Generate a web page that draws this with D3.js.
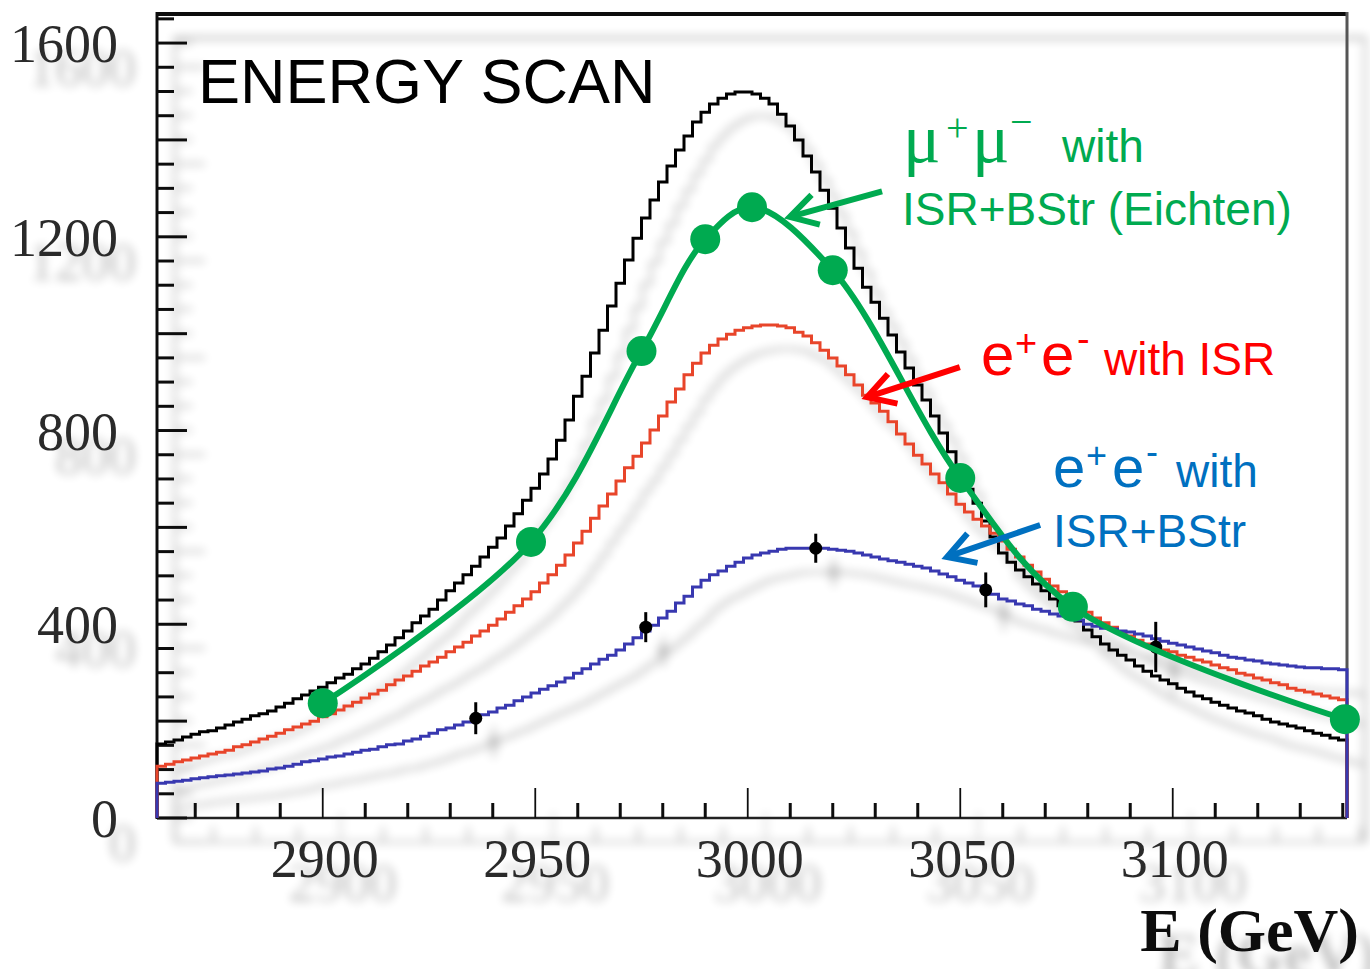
<!DOCTYPE html>
<html><head><meta charset="utf-8">
<script src="https://cdn.jsdelivr.net/npm/d3@7"></script>
<style>html,body{margin:0;padding:0;background:#fff;}svg{display:block;}</style>
</head><body>
<script>
// ---- data ----
const binStart = 2861, binWidth = 2;
const blackHist = [
153,157,161,167,173,178,180,186,192,198,
204,211,215,221,229,237,246,254,262,270,
279,289,297,308,318,330,343,357,372,386,
403,417,431,450,469,485,502,520,539,559,
578,603,628,656,681,710,741,780,822,871,
912,960,1007,1057,1104,1152,1197,1239,1276,1313,
1346,1379,1408,1437,1457,1474,1486,1495,1499,1499,
1495,1486,1474,1453,1429,1400,1367,1334,1296,1259,
1218,1177,1135,1096,1065,1032,997,962,929,894,
863,830,795,756,718,679,650,613,580,547,
528,512,498,483,469,452,438,421,407,388,
374,359,347,336,326,314,303,293,285,277,
268,260,252,246,239,233,227,221,217,211,
204,198,194,190,186,180,175,171,165,161];
const redHist = [
107,111,116,120,124,128,132,136,140,147,
151,157,163,169,175,182,188,194,200,209,
215,223,231,239,248,256,264,275,285,293,
303,314,322,332,343,353,363,376,386,398,
411,425,438,452,467,485,502,522,543,568,
592,619,644,669,696,723,747,774,801,830,
859,886,915,939,960,976,989,999,1007,1012,
1016,1018,1018,1016,1012,1003,995,981,966,950,
933,915,894,873,857,840,818,793,772,749,
731,710,692,669,648,632,617,603,588,572,
555,539,522,508,493,479,467,452,438,425,
413,403,394,384,376,367,359,353,347,343,
336,332,326,322,316,310,306,299,295,289,
285,279,275,268,264,260,256,252,248,244];
const blueHist = [
72,74,76,78,81,83,85,87,89,91,
93,95,97,101,103,107,111,116,118,122,
126,128,132,136,140,142,147,151,153,159,
163,169,175,182,186,192,198,206,213,219,
227,233,242,250,258,266,273,281,289,299,
308,318,328,336,347,359,372,386,398,413,
427,444,458,477,491,502,510,520,528,537,
543,547,551,555,557,557,557,557,557,555,
553,551,547,543,539,535,531,528,524,520,
516,510,504,498,491,485,479,471,462,452,
448,442,438,431,427,421,417,413,409,400,
396,392,390,386,384,380,376,370,365,361,
357,353,349,345,341,336,332,330,326,324,
320,318,316,314,312,310,310,308,308,306];
const dataE = [2936, 2976, 3016, 3056, 3096];
const dataV = [206, 394, 557, 471, 353];
const dataErr = [33, 31, 30, 36, 52];
const muE = [2900, 2949, 2975, 2990, 3001, 3020, 3050, 3076.5, 3140.5];
const muV = [237, 570, 964, 1195, 1261, 1131, 702, 436, 204];
const xTickLabels = [2900, 2950, 3000, 3050, 3100];
const yTickLabels = [0, 400, 800, 1200, 1600];
// arrows: [tailE, tailV, tipE, tipV]
const arrows = [
  {c:"#00AA50", a:[3031.6, 1294, 3009.9, 1241]},
  {c:"#FF0000", a:[3049.9, 931, 3028.1, 869]},
  {c:"#0070C0", a:[3068.8, 605, 3046.9, 539]}
];

// ---- drawing ----
const W = 1370, H = 969;
const x = d3.scaleLinear().domain([2861, 3141]).range([157, 1347]);
const y = d3.scaleLinear().domain([0, 1660]).range([818, 14]);

const svg = d3.select("body").append("svg").attr("width", W).attr("height", H);
const defs = svg.append("defs");
const f = defs.append("filter").attr("id","shadow").attr("x","-10%").attr("y","-10%").attr("width","130%").attr("height","130%");
f.append("feGaussianBlur").attr("in","SourceAlpha").attr("stdDeviation",5).attr("result","b");
f.append("feOffset").attr("in","b").attr("dx",18).attr("dy",24).attr("result","o");
f.append("feComponentTransfer").attr("in","o").attr("result","s").append("feFuncA").attr("type","linear").attr("slope",0.24);
const fm = f.append("feMerge"); fm.append("feMergeNode").attr("in","s"); fm.append("feMergeNode").attr("in","SourceGraphic");

const root = svg.append("g").attr("filter","url(#shadow)");

// frame
root.append("line").attr("x1",x.range()[0]).attr("x2",x.range()[1]).attr("y1",y.range()[1]).attr("y2",y.range()[1]).attr("stroke","#111").attr("stroke-width",4);
root.append("line").attr("x1",x.range()[1]).attr("x2",x.range()[1]).attr("y1",y.range()[1]-2).attr("y2",y.range()[0]).attr("stroke","#555").attr("stroke-width",3);
root.append("line").attr("x1",x.range()[0]).attr("x2",x.range()[0]).attr("y1",y.range()[1]-2).attr("y2",y.range()[0]+1).attr("stroke","#111").attr("stroke-width",3);
root.append("line").attr("x1",x.range()[0]).attr("x2",x.range()[1]).attr("y1",y.range()[0]).attr("y2",y.range()[0]).attr("stroke","#222").attr("stroke-width",2.5);

// x ticks
const xt = d3.range(2870, 3141, 10);
root.selectAll(".xt").data(xt).enter().append("line")
  .attr("x1",d=>x(d)).attr("x2",d=>x(d))
  .attr("y1",y(0)).attr("y2",d=> d%50===0 ? y(0)-30 : y(0)-15)
  .attr("stroke","#111").attr("stroke-width",d=> d%50===0 ? 1.8 : 3);
// y ticks
const yt = d3.range(0, 1651, 50);
root.selectAll(".yt").data(yt).enter().append("line")
  .attr("y1",d=>y(d)).attr("y2",d=>y(d))
  .attr("x1",x.range()[0]).attr("x2",d=> d%200===0 ? x.range()[0]+30 : x.range()[0]+17)
  .attr("stroke","#111").attr("stroke-width",3);

// tick labels
root.selectAll(".xl").data(xTickLabels).enter().append("text")
  .attr("x",d=>x(d)+2).attr("y",877).attr("text-anchor","middle")
  .attr("font-family","Liberation Serif, serif").attr("font-size",54).attr("fill","#2b2b2b").text(d=>d);
root.selectAll(".yl").data(yTickLabels).enter().append("text")
  .attr("x",118).attr("y",d=>y(d)+19).attr("text-anchor","end")
  .attr("font-family","Liberation Serif, serif").attr("font-size",54).attr("fill","#2b2b2b").text(d=>d);
root.append("text").attr("x",1359).attr("y",951).attr("text-anchor","end")
  .attr("font-family","Liberation Serif, serif").attr("font-weight","bold").attr("font-size",62).attr("fill","#111").text("E (GeV)");

// histograms
function histPts(vals){
  const pts = [[binStart, 0]];
  vals.forEach((v,i)=>pts.push([binStart + i*binWidth, v]));
  const hi = binStart + vals.length*binWidth;
  pts.push([hi, vals[vals.length-1]]); pts.push([hi, 0]);
  return pts;
}
const hline = d3.line().x(d=>x(d[0])).y(d=>y(d[1])).curve(d3.curveStepAfter);
root.append("path").attr("d",hline(histPts(blackHist))).attr("fill","none").attr("stroke","#000").attr("stroke-width",3);
root.append("path").attr("d",hline(histPts(redHist))).attr("fill","none").attr("stroke","#E8442C").attr("stroke-width",3);
root.append("path").attr("d",hline(histPts(blueHist))).attr("fill","none").attr("stroke","#3838B0").attr("stroke-width",3);

// data points with error bars
const pts = dataE.map((e,i)=>({e, v:dataV[i], err:dataErr[i]}));
root.selectAll(".eb").data(pts).enter().append("line")
  .attr("x1",d=>x(d.e)).attr("x2",d=>x(d.e)).attr("y1",d=>y(d.v-d.err)).attr("y2",d=>y(d.v+d.err))
  .attr("stroke","#000").attr("stroke-width",3);
root.selectAll(".dp").data(pts).enter().append("circle")
  .attr("cx",d=>x(d.e)).attr("cy",d=>y(d.v)).attr("r",6.5).attr("fill","#000");

// ENERGY SCAN
svg.append("text").attr("x",198).attr("y",103).attr("font-family","Liberation Sans, Arial, sans-serif")
  .attr("font-size",63).attr("fill","#000").text("ENERGY SCAN");

// green mu+mu- curve
const green = "#00AA50";
const mu = muE.map((e,i)=>[e, muV[i]]);
const gline = d3.line().x(d=>x(d[0])).y(d=>y(d[1])).curve(d3.curveCatmullRom.alpha(0.5));
svg.append("path").attr("d",gline(mu)).attr("fill","none").attr("stroke",green).attr("stroke-width",6);
svg.selectAll(".mp").data(mu).enter().append("circle")
  .attr("cx",d=>x(d[0])).attr("cy",d=>y(d[1])).attr("r",15).attr("fill",green);

// arrows
arrows.forEach(ar=>{
  const [te,tv,pe,pv] = ar.a;
  const x0=x(te), y0=y(tv), x1=x(pe), y1=y(pv);
  const ang = Math.atan2(y0-y1, x0-x1);
  const L = 31, ha = Math.PI/6;
  const g = svg.append("g").attr("stroke",ar.c).attr("stroke-width",6).attr("fill","none").attr("stroke-linecap","butt");
  g.append("line").attr("x1",x0).attr("y1",y0).attr("x2",x1).attr("y2",y1);
  g.append("path").attr("stroke-linejoin","miter").attr("d",
    `M${x1+L*Math.cos(ang-ha)},${y1+L*Math.sin(ang-ha)}L${x1},${y1}L${x1+L*Math.cos(ang+ha)},${y1+L*Math.sin(ang+ha)}`);
});

// annotation labels
const sans = "Liberation Sans, Arial, sans-serif";
const serif = "Liberation Serif, serif";
function txt(xp, yp, s, size, col, fam){
  return svg.append("text").attr("x",xp).attr("y",yp).attr("font-family",fam||sans).attr("font-size",size).attr("fill",col).text(s);
}
// mu+mu- with
txt(903, 162, "\u03BC", 70, green, serif);
txt(946, 141, "+", 40, green, serif);
txt(972, 162, "\u03BC", 70, green, serif);
txt(1010, 135, "\u2212", 40, green, serif);
txt(1062, 162, "with", 46, green);
txt(902, 225, "ISR+BStr (Eichten)", 46, green);
// e+e- with ISR (red)
const red = "#FF0000";
txt(981, 375, "e", 60, red);
txt(1015, 356, "+", 38, red);
txt(1041, 375, "e", 60, red);
txt(1077, 352, "-", 38, red);
txt(1104, 375, "with ISR", 46, red);
// e+e- with ISR+BStr (blue)
const blue = "#0070C0";
txt(1053, 487, "e", 58, blue);
txt(1086, 468, "+", 36, blue);
txt(1112, 487, "e", 58, blue);
txt(1146, 464, "-", 36, blue);
txt(1176, 487, "with", 46, blue);
txt(1053, 547, "ISR+BStr", 46, blue);
</script>
</body></html>
